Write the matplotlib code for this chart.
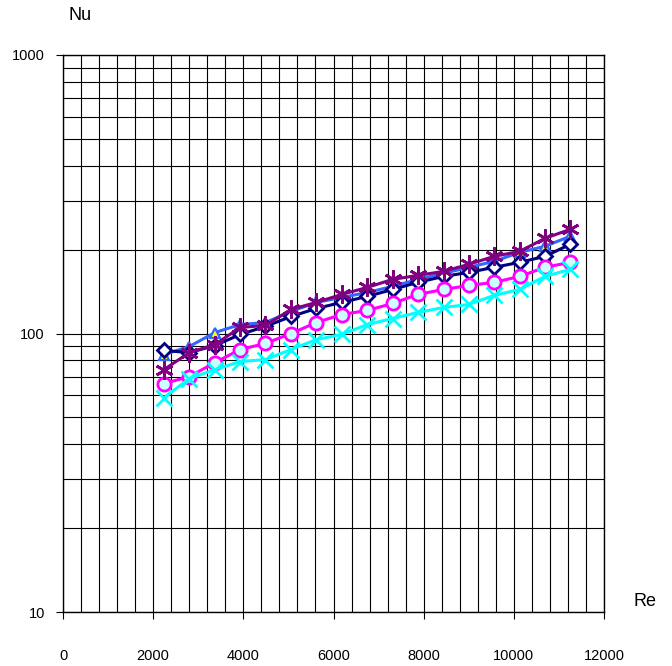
import numpy as np
import matplotlib
matplotlib.use("Agg")
import matplotlib.pyplot as plt
from matplotlib.ticker import MultipleLocator, LogLocator, NullFormatter, FixedLocator

plt.rcParams['font.family'] = ['Liberation Sans', 'DejaVu Sans']

# Reynolds numbers (shared by all series)
re = [2240, 2800, 3370, 3930, 4490, 5060, 5620, 6180, 6750, 7310,
      7870, 8440, 9000, 9560, 10130, 10690, 11250]

# Nusselt numbers for each series
nu_diamond = [86.9, 85.4, 90.5, 99.2, 106, 115.1, 123, 129.3, 135.9, 143.9,
              152.6, 160.3, 165.7, 172.8, 180.1, 189.2, 209]
nu_triangle = [84, 89.8, 100.8, 107.7, 109.5, 120, 129.3, 134.7, 140.4, 147.6,
               156.4, 164.4, 172.8, 181.5, 195.6, 205.6, 223.4]
nu_star = [74.2, 85.4, 91.3, 105.1, 106.9, 122, 129.3, 138.1, 146.4, 156.4,
           161.7, 167.1, 177.1, 189.2, 197.2, 219.6, 236.6]
nu_circle = [66.1, 70, 78.6, 87.6, 92.1, 100, 109.5, 117, 121, 128.2,
             138.1, 143.9, 148.8, 152.6, 160.3, 172.8, 180.1]
nu_cross = [58.8, 68.9, 74.2, 79.3, 80.6, 87.6, 95.1, 99.2, 107.7, 113.2,
            119, 124, 127.1, 137, 143.9, 160.3, 169.9]

fig = plt.figure(figsize=(6.72, 6.66), dpi=100)
ax = fig.add_axes([63 / 672, 1 - 612 / 666, 541 / 672, 557 / 666])

lw = 2.2
ax.plot(re, nu_triangle, color='#3366ff', lw=lw, marker='^', ms=7,
        mfc='#ffff00', mec='#3366ff', mew=1.6, zorder=3)
ax.plot(re, nu_diamond, color='#000080', lw=lw, marker='D', ms=7.5,
        mfc='white', mec='#000080', mew=2.0, zorder=4)
ax.plot(re, nu_circle, color='#ff00ff', lw=lw, marker='o', ms=9.5,
        mfc='#ccffff', mec='#ff00ff', mew=2.0, zorder=5)
ax.plot(re, nu_cross, color='#00ffff', lw=lw, marker='x', ms=11,
        mec='#00ffff', mew=2.0, zorder=6)
ax.plot(re, nu_star, color='#800080', lw=lw, marker=(6, 2, 0), ms=13,
        mec='#800080', mew=2.0, zorder=7)

ax.set_yscale('log')
ax.set_ylim(10, 1000)
ax.set_xlim(0, 12000)

ax.xaxis.set_major_locator(MultipleLocator(2000))
ax.xaxis.set_minor_locator(MultipleLocator(400))
ax.yaxis.set_major_locator(FixedLocator([10, 100, 1000]))
ax.yaxis.set_minor_locator(LogLocator(base=10, subs=np.arange(2, 10)))
ax.yaxis.set_minor_formatter(NullFormatter())
ax.set_yticklabels(['10', '100', '1000'])

ax.grid(True, which='both', color='black', lw=0.8)
ax.set_axisbelow(True)

ax.tick_params(axis='x', which='major', direction='out', length=5, width=0.8,
               pad=22, labelsize=10.5, colors='black')
ax.tick_params(axis='y', which='major', direction='out', length=5, width=0.8,
               pad=8, labelsize=10.5, colors='black')
ax.tick_params(which='minor', length=0)
for s in ax.spines.values():
    s.set_color('black')
    s.set_linewidth(1.0)

fig.text(80 / 672, 1 - 16 / 666, 'Nu', fontsize=13, ha='center', va='center')
fig.text(645 / 672, 1 - 602 / 666, 'Re', fontsize=13, ha='center', va='center')

fig.savefig('out.png', dpi=100)
